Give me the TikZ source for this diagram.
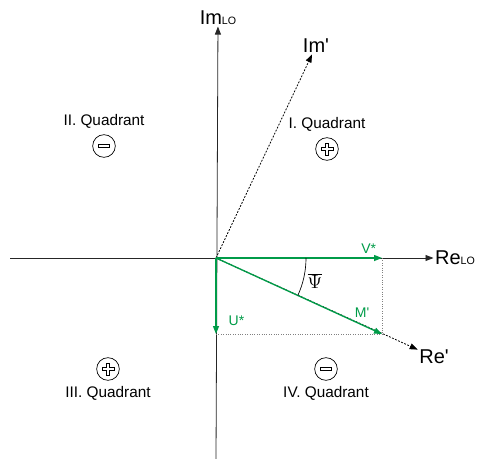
\documentclass[tikz,border=0pt]{standalone}
\usepackage{fontspec}
\setmainfont{Liberation Sans}[Ligatures=TeXOff]
\usetikzlibrary{positioning, arrows.meta, angles}
\definecolor{vecgreen}{RGB}{0,155,72}

\begin{document}
\begin{tikzpicture}[
		x=0.75pt, y=-0.75pt,
		axis/.style={-{Triangle[length=6pt, width=4.5pt]}, line width=0.6pt, black!85},
		vec/.style={-{Triangle[length=6pt, width=4.5pt]}, line width=1pt, vecgreen},
		rotated/.style={-{Triangle[length=6pt, width=4.5pt]}, line width=0.6pt, dash pattern=on 1.4pt off 1.1pt},
		helper/.style={line width=0.5pt, gray, dash pattern=on 0.6pt off 1.2pt},
		axislabel/.style={font=\fontsize{15}{15}\selectfont, inner sep=1pt},
		veclabel/.style={font=\fontsize{10.5}{11}\selectfont, text=vecgreen, inner sep=0pt},
		quadtext/.style={font=\fontsize{11.5}{12}\selectfont, inner sep=0pt},
		sign/.style={draw, circle, line width=0.5pt, minimum size=17pt, inner sep=0pt},
		possign/.style={sign, path picture={\draw[line width=0.5pt] ([shift={(-1.6,-6)}]path picture bounding box.center) -- ++(3.2,0) -- ++(0,4.4) -- ++(4.4,0) -- ++(0,3.2) -- ++(-4.4,0) -- ++(0,4.4) -- ++(-3.2,0) -- ++(0,-4.4) -- ++(-4.4,0) -- ++(0,-3.2) -- ++(4.4,0) -- cycle;}},
		negsign/.style={sign, path picture={\draw[line width=0.5pt] ([shift={(-5.5,-1.6)}]path picture bounding box.center) rectangle ++(11,3.2);}}
		]
		
		\useasboundingbox (0,0) rectangle (477,459);
		
		% Define Nodes
		\coordinate (O) at (216,258);
		\coordinate (west) at (10,258);
		\coordinate (south) at (216,459);
		\coordinate (V) at (382,258);
		\coordinate (U) at (216,334);
		\coordinate (M) at (382,334);
		
		\node[axislabel] (relo) at (455,258) {Re{\fontsize{8}{8}\selectfont LO}};
		\node[axislabel] (imlo) at (218,18) {Im{\fontsize{8}{8}\selectfont LO}};
		\node[axislabel] (imprime) at (316,46) {Im'};
		\node[axislabel] (reprime) at (434,357) {Re'};
		
		\node[negsign] (signII) at (104,146) {};
		\node[possign] (signI) at (327,149) {};
		\node[possign] (signIII) at (108,369) {};
		\node[negsign] (signIV) at (326,369) {};
		
		\node[quadtext, above=4pt of signII] (quadII) {II. Quadrant};
		\node[quadtext, above=4pt of signI] (quadI) {I. Quadrant};
		\node[quadtext, below=4pt of signIII] (quadIII) {III. Quadrant};
		\node[quadtext, below=4pt of signIV] (quadIV) {IV. Quadrant};
		
		% Axes
		\draw[axis] (west) -- (relo);
		\draw[axis] (south) -- (imlo);
		\draw[rotated] (O) -- (imprime);
		\draw[rotated] (O) -- (reprime);
		
		% Projections
		\draw[helper] (V) -- (M);
		\draw[helper] (U) -- (M);
		
		% Vectors
		\draw[vec] (O) -- (V) node[veclabel, pos=0.92, above=3pt] {V*};
		\draw[vec] (O) -- (U) node[veclabel, pos=0.82, right=9pt] {U*};
		\draw[vec] (O) -- (M) node[veclabel, pos=0.88, above=5pt] {M'};
		
		% Angle
		\pic[draw, line width=0.5pt, angle radius=67.5pt] {angle = M--O--V};
		\node[font=\fontsize{15}{15}\selectfont] (psi) at (315,281) {$\overline{\Psi}$};
		
	\end{tikzpicture}
\end{document}
